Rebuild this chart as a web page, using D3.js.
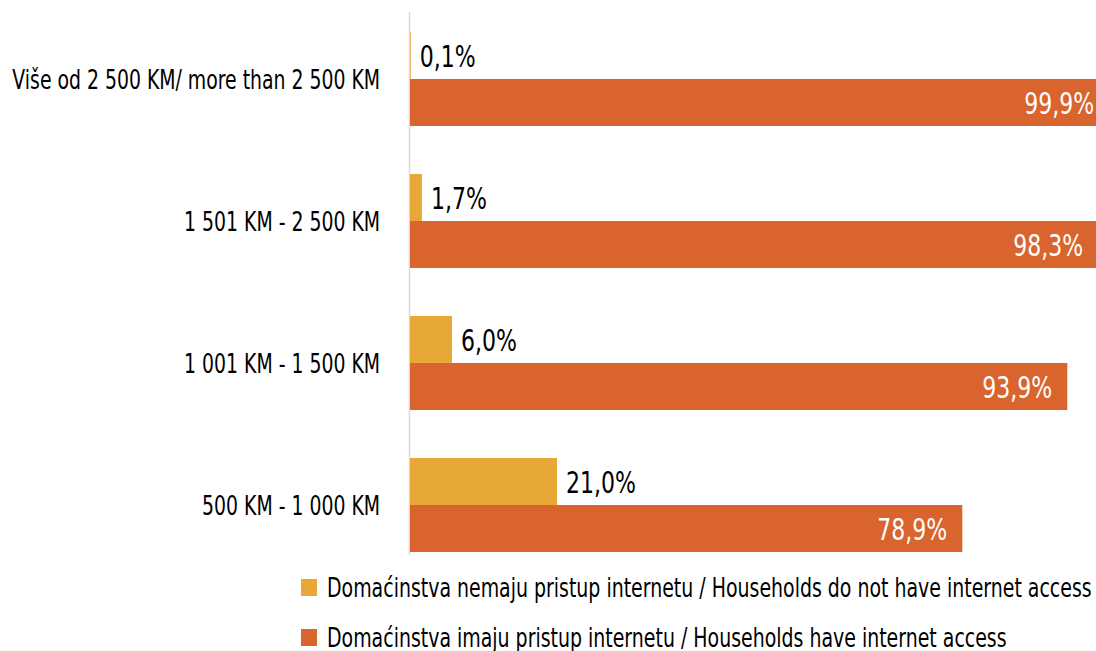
<!DOCTYPE html>
<html>
<head>
<meta charset="utf-8">
<script src="https://cdn.jsdelivr.net/npm/d3@7"></script>
<style>
  body { margin: 0; background: #fff; }
  text { font-family: "DejaVu Sans", sans-serif; }
</style>
</head>
<body>
<div id="app"></div>
<script>
const width = 1096;
const height = 651;

const categories = [
  "Više od 2 500 KM/ more than 2 500 KM",
  "1 501 KM - 2 500 KM",
  "1 001 KM - 1 500 KM",
  "500 KM - 1 000 KM"
];
const series = [
  "Domaćinstva nemaju pristup internetu / Households do not have internet access",
  "Domaćinstva imaju pristup internetu / Households have internet access"
];
const noAccess = [0.1, 1.7, 6.0, 21.0];
const hasAccess = [99.9, 98.3, 93.9, 78.9];
const colors = ["#e8a838", "#d9642e"];

const rows = categories.map((c, i) => ({ cat: c, values: [noAccess[i], hasAccess[i]] }));

const svg = d3.select("#app").append("svg")
  .attr("width", width)
  .attr("height", height);

const x = d3.scaleLinear().domain([0, 100]).range([410, 1110]);
const y = d3.scaleBand()
  .domain(categories)
  .range([8, 576])
  .paddingInner(0.338)
  .paddingOuter(0.169);
const ySub = d3.scaleBand().domain([0, 1]).range([0, y.bandwidth()]);

const fmt = v => d3.format(".1f")(v).replace(".", ",") + "%";

// the reference uses a condensed face; squeeze DejaVu horizontally to match
const measure = (str, size) => {
  const t = svg.append("text").style("font-size", size + "px").text(str);
  const w = t.node().getComputedTextLength();
  t.remove();
  return w;
};
const catSize = 27, valSize = 31, legSize = 27;
const catScale = 368 / measure(categories[0], catSize);
const valScale = 70 / measure("99,9%", valSize);
const legScale = 765 / measure(series[0], legSize);

// axis line
svg.append("line")
  .attr("x1", x(0) - 0.5).attr("x2", x(0) - 0.5)
  .attr("y1", 12).attr("y2", 555)
  .attr("stroke", "#d9d9d9")
  .attr("stroke-width", 1.5);

const group = svg.append("g")
  .selectAll("g")
  .data(rows)
  .join("g")
  .attr("transform", d => `translate(0,${y(d.cat)})`);

group.selectAll("rect")
  .data(d => d.values)
  .join("rect")
  .attr("x", x(0))
  .attr("y", (_, i) => ySub(i))
  .attr("width", v => x(v) - x(0))
  .attr("height", ySub.bandwidth())
  .attr("fill", (_, i) => colors[i]);

// value labels: outside for the small bar, inside for the big one
group.selectAll("text.val")
  .data(d => d.values)
  .join("text")
  .attr("class", "val")
  .attr("transform", (v, i) =>
    `translate(${i === 0 ? x(v) + 9 : x(v) - 15},${ySub(i) + ySub.bandwidth() / 2}) scale(${valScale},1)`)
  .attr("dy", "0.36em")
  .attr("text-anchor", (_, i) => i === 0 ? "start" : "end")
  .attr("fill", (_, i) => i === 0 ? "#000" : "#fff")
  .style("font-size", valSize + "px")
  .text(fmt);

// category labels
svg.append("g")
  .selectAll("text")
  .data(categories)
  .join("text")
  .attr("transform", d => `translate(380,${y(d) + y.bandwidth() / 2}) scale(${catScale},1)`)
  .attr("dy", "0.36em")
  .attr("text-anchor", "end")
  .attr("fill", "#000")
  .style("font-size", catSize + "px")
  .text(d => d);

// legend
const legend = svg.append("g")
  .selectAll("g")
  .data(series)
  .join("g")
  .attr("transform", (_, i) => `translate(301,${587 + i * 50})`);

legend.append("rect")
  .attr("x", 0).attr("y", -8)
  .attr("width", 16).attr("height", 17)
  .attr("fill", (_, i) => colors[i]);

legend.append("text")
  .attr("transform", `translate(26,0) scale(${legScale},1)`)
  .attr("dy", "0.36em")
  .style("font-size", legSize + "px")
  .attr("fill", "#000")
  .text(d => d);
</script>
</body>
</html>
